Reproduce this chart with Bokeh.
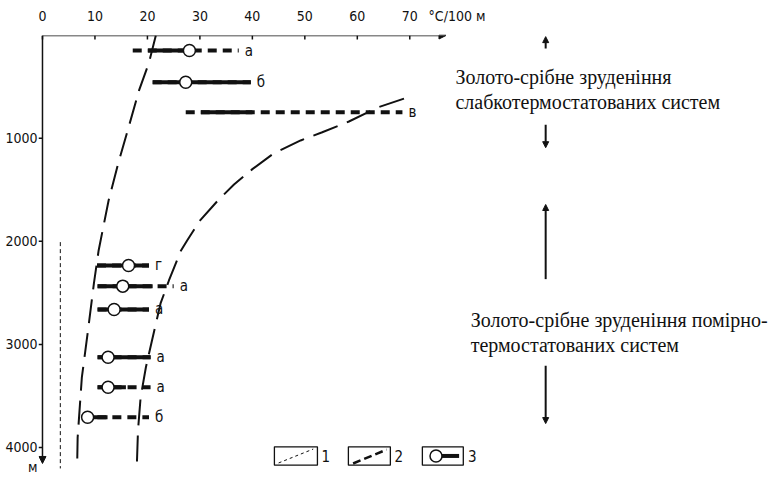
from bokeh.plotting import figure
from bokeh.models import Range1d, FixedTicker, Arrow, NormalHead, ColumnDataSource
from bokeh.core.properties import value
from bokeh.embed import file_html
from bokeh.resources import INLINE

# ---------------- data ----------------
grad_ticks = [0, 10, 20, 30, 40, 50, 60, 70]
depth_ticks = [1000, 2000, 3000, 4000]
grad_unit = "°С/100 м"
grad_unit_pos = 79
depth_unit = "м"
depth_unit_pos = 4190

# curve 1 (left dashed boundary)
c1_depth = [4, 266, 537, 896, 1250, 1604, 2089, 2409, 2894, 3321, 3903, 4194]
c1_grad = [21.6, 20.3, 18.4, 16.4, 14.4, 12.6, 10.7, 9.8, 8.6, 7.5, 6.7, 6.6]

# curve 2 (right dashed boundary)
c2_depth = [616, 702, 838, 945, 1022, 1150, 1300, 1450, 1600, 1800, 1990, 2089,
            2380, 2603, 2933, 3224, 3515, 3835, 4194]
c2_grad = [68.9, 63.9, 58.4, 53.2, 49.2, 44.0, 40.0, 36.5, 33.5, 30.0, 27.6, 26.4,
           24.1, 22.5, 21.0, 19.7, 18.7, 18.2, 17.97]

# thin dashed line (type 1)
t1_depth = [2008, 4203]
t1_grad = [3.4, 3.4]

# gradient ranges (type 3)
r_depth = [150, 457, 748, 2234, 2435, 2661, 3124, 3415, 3706]
r_lo = [17.2, 21.0, 27.3, 10.4, 10.5, 10.5, 10.5, 10.5, 7.6]
r_hi = [37.4, 39.7, 68.6, 20.3, 25.0, 20.3, 20.6, 20.6, 20.3]
r_solid_lo = [20.1, 21.0, 30.2, 10.4, 10.5, 10.5, 10.5, 10.5, 7.6]
r_solid_hi = [27.0, 39.7, 40.0, 20.3, 21.0, 20.3, 20.6, 15.9, 12.4]
r_mean = [28.0, 27.3, float("nan"), 16.4, 15.3, 13.65, 12.5, 12.5, 8.6]
r_label = ["а", "б", "в", "г", "а", "а", "а", "а", "б"]

upper_text = ["Золото-срібне зруденіння", "слабкотермостатованих систем"]
lower_text = ["Золото-срібне зруденіння помірно-", "термостатованих систем"]
legend_labels = ["1", "2", "3"]

# ---------------- figure ----------------
TICK_FONT = "DejaVu Sans Condensed"
SERIF = "Times New Roman"
INK = "#111111"
X0 = -0.76
PX_PER_DEPTH = 0.1031

p = figure(width=768, height=477, output_backend="svg", toolbar_location=None,
           x_axis_location="above",
           x_range=Range1d(X0, X0 + 730 / 5.247), y_range=Range1d(4291, 4),
           min_border_left=38, min_border_top=35, min_border_right=0, min_border_bottom=0)
p.outline_line_color = None
p.xgrid.visible = False
p.ygrid.visible = False
p.background_fill_color = "white"

xa = p.xaxis[0]
xa.ticker = FixedTicker(ticks=grad_ticks + [grad_unit_pos])
xa.major_label_overrides = {grad_unit_pos: grad_unit, str(grad_unit_pos): grad_unit}
xa.axis_line_color = None
xa.major_tick_line_color = None
xa.major_tick_in = 0
xa.major_tick_out = 0
xa.minor_tick_line_color = None
xa.major_label_standoff = 12
xa.major_label_text_font = TICK_FONT
xa.major_label_text_font_size = "14px"
xa.major_label_text_color = INK

ya = p.yaxis[0]
ya.ticker = FixedTicker(ticks=depth_ticks + [depth_unit_pos])
ya.major_label_overrides = {depth_unit_pos: depth_unit, str(depth_unit_pos): depth_unit}
ya.axis_line_color = None
ya.major_tick_line_color = None
ya.major_tick_in = 0
ya.major_tick_out = 0
ya.minor_tick_line_color = None
ya.major_label_standoff = 1
ya.major_label_text_font = TICK_FONT
ya.major_label_text_font_size = "14px"
ya.major_label_text_color = INK

# axis lines with arrows
p.add_layout(Arrow(end=NormalHead(size=7, fill_color=INK, line_color=INK),
                   x_start=0, y_start=4, x_end=76.9, y_end=4,
                   line_width=1.5, line_color=INK))
p.add_layout(Arrow(end=NormalHead(size=7, fill_color=INK, line_color=INK),
                   x_start=0, y_start=4, x_end=0, y_end=4155,
                   line_width=1.5, line_color=INK))
# tick marks (x ticks point down into the plot, depth ticks point left)
p.segment(x0=grad_ticks, y0=[4] * len(grad_ticks), x1=grad_ticks,
          y1=[4 + 4 / PX_PER_DEPTH] * len(grad_ticks), line_color=INK, line_width=1.5)
p.segment(x0=[X0] * len(depth_ticks), y0=depth_ticks, x1=[0] * len(depth_ticks),
          y1=depth_ticks, line_color=INK, line_width=1.5)

# curves
p.line(c1_grad, c1_depth, line_color=INK, line_width=2, line_dash="24 10")
p.line(c2_grad, c2_depth, line_color=INK, line_width=2, line_dash="26 10")
p.line(t1_grad, t1_depth, line_color=INK, line_width=1, line_dash="4 3")

# ranges
src = ColumnDataSource(dict(depth=r_depth, lo=r_lo, hi=r_hi, slo=r_solid_lo,
                            shi=r_solid_hi, mean=r_mean, label=r_label))
p.segment(x0="lo", y0="depth", x1="hi", y1="depth", source=src,
          line_color=INK, line_width=4, line_dash="9 6")
p.segment(x0="slo", y0="depth", x1="shi", y1="depth", source=src,
          line_color=INK, line_width=4)
p.scatter(x="mean", y="depth", source=src, size=12, fill_color="white",
          line_color=INK, line_width=1.5)
p.text(x="hi", y="depth", text="label", source=src, x_offset=6,
       text_baseline="middle", text_align="left",
       text_font=value(TICK_FONT), text_font_size="15px", text_color=INK)

# right side texts and arrows
p.text(x=[78.7, 78.7], y=[409, 646], text=upper_text,
       text_baseline="alphabetic", text_align="left",
       text_font=value(SERIF), text_font_size="20px", text_color=INK)
p.text(x=[81.6, 81.6], y=[2760, 3005], text=lower_text,
       text_baseline="alphabetic", text_align="left",
       text_font=value(SERIF), text_font_size="20px", text_color=INK)

ARX = 95.9
for (y0, y1) in [(130, 15), (870, 1092), (2367, 1643), (3208, 3768)]:
    p.add_layout(Arrow(end=NormalHead(size=6, fill_color=INK, line_color=INK),
                       x_start=ARX, y_start=y0, x_end=ARX, y_end=y1,
                       line_width=2, line_color=INK))

# legend
lg_left = [44.2, 58.3, 72.4]
lg_right = [52.4, 66.3, 80.2]
p.quad(left=lg_left, right=lg_right, top=[3993] * 3, bottom=[4171] * 3,
       fill_color=None, line_color=INK, line_width=1.3)
p.line([45.0, 51.6], [4150, 4015], line_color=INK, line_width=1, line_dash="3 3")
p.line([59.2, 65.6], [4155, 4020], line_color=INK, line_width=2.5, line_dash="8 4")
p.segment(x0=[75.0], y0=[4082], x1=[79.4], y1=[4082], line_color=INK, line_width=4)
p.scatter(x=[75.0], y=[4082], size=12, fill_color="white", line_color=INK, line_width=1.5)
p.text(x=[54.0, 67.9, 81.9], y=[4082] * 3, text=legend_labels,
       text_baseline="middle", text_align="center",
       text_font=value(TICK_FONT), text_font_size="15px", text_color=INK)

open("out.html", "w").write(file_html(p, INLINE))
